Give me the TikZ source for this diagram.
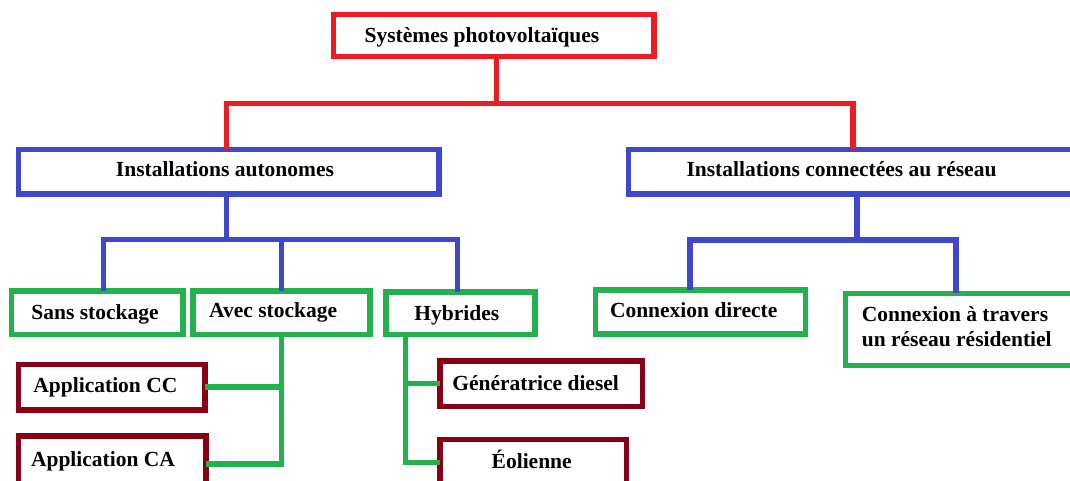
\documentclass[tikz,border=0pt]{standalone}
\usepackage{fontspec}
\setmainfont{Liberation Serif}
\usetikzlibrary{calc}
\definecolor{cred}{HTML}{ED1C24}
\definecolor{cblue}{HTML}{3F48CC}
\definecolor{cgreen}{HTML}{22B14C}
\definecolor{cdred}{HTML}{880015}
\begin{document}
\begin{tikzpicture}[x=1pt,y=-1pt,
  box/.style={draw, line width=5.5pt, fill=white, inner sep=0pt},
  rbox/.style={box, draw=cred},
  bbox/.style={box, draw=cblue},
  gbox/.style={box, draw=cgreen},
  dbox/.style={box, draw=cdred},
  conn/.style={line width=5.5pt, line cap=rect},
  rline/.style={conn, draw=cred},
  bline/.style={conn, draw=cblue},
  gline/.style={conn, draw=cgreen},
  tx/.style={font=\fontsize{21.5pt}{25pt}\selectfont\bfseries, inner sep=0pt, anchor=base, text=black},
  txl/.style={tx, anchor=base west, align=left}]
\useasboundingbox (0,0) rectangle (1070,480);
\clip (0,0) rectangle (1070,480);
\fill[white] (0,0) rectangle (1070,480);

% boxes
\node[rbox, minimum width=320.5pt, minimum height=42.2pt] (top) at (493.75,35.5) {};
\node[bbox, minimum width=420.7pt, minimum height=44.5pt] (box1) at (228.65,171.65) {};
\node[bbox, minimum width=456.5pt, minimum height=44.5pt] (box2) at (856.75,171.65) {};
\node[gbox, minimum width=171.8pt, minimum height=43.6pt] (sans) at (97.3,312.8) {};
\node[gbox, minimum width=177pt, minimum height=43.6pt] (avec) at (281.7,312.8) {};
\node[gbox, minimum width=149pt, minimum height=42.6pt] (hyb) at (460.3,313.3) {};
\node[gbox, minimum width=209.9pt, minimum height=44pt] (cd) at (700.45,312) {};
\node[gbox, minimum width=239.5pt, minimum height=72.2pt] (cat) at (965.25,329.5) {};
\node[dbox, minimum width=186.5pt, minimum height=45.6pt] (appcc) at (111.55,387.2) {};
\node[dbox, minimum width=187.9pt, minimum height=56pt] (appca) at (112.25,464) {};
\node[dbox, minimum width=202.6pt, minimum height=45.3pt] (gen) at (541.3,383.65) {};
\node[dbox, minimum width=186.7pt, minimum height=46.2pt] (eol) at (533.35,462.5) {};

% texts
\node[tx] (ttop) at (482,42.7) {Systèmes photovoltaïques};
\node[tx] (tbox1) at (225,176.7) {Installations autonomes};
\node[tx] (tbox2) at (841.5,176.7) {Installations connectées au réseau};
\node[tx] (tsans) at (95,319) {Sans stockage};
\node[tx] (tavec) at (273.2,317.3) {Avec stockage};
\node[tx] (thyb) at (456.8,320) {Hybrides};
\node[tx] (tcd) at (693.7,317.7) {Connexion directe};
\node[txl] (tcat) at (861.6,346) {Connexion à travers\\un réseau résidentiel};
\node[tx] (tappcc) at (105.4,392.3) {Application CC};
\node[tx] (tappca) at (103,466.5) {Application CA};
\node[tx] (tgen) at (535.6,390.7) {Génératrice diesel};
\node[tx] (teol) at (531.7,468.3) {Éolienne};

% red connectors
\coordinate (rj) at (496.5,103.3);
\draw[rline] (top.south -| rj) -- (rj);
\draw[rline] ([xshift=-2pt]box1.north) |- (rj) -| ([xshift=-4pt]box2.north);

% blue connectors
\coordinate (bj1) at (226.3,239.7);
\draw[bline] (box1.south -| bj1) -- (bj1);
\draw[bline] ([xshift=6.4pt]sans.north) |- (bj1) -| ([xshift=-2.6pt]hyb.north);
\draw[bline] (avec.north) -- (avec.north |- bj1);
\coordinate (bj2) at (857,240);
\draw[bline] (box2.south -| bj2) -- (bj2);
\draw[bline] ([xshift=-10.5pt]cd.north) |- (bj2) -| ([xshift=113.3pt]cat.north west);

% green connectors
\draw[gline] (avec.south) |- (appca.east);
\draw[gline] (appcc.east) -- (appcc.east -| avec.south);
\coordinate (hs) at ([xshift=22.6pt]hyb.south west);
\draw[gline] (hs) |- (eol.west);
\draw[gline] (gen.west) -- (gen.west -| hs);
\end{tikzpicture}
\end{document}
